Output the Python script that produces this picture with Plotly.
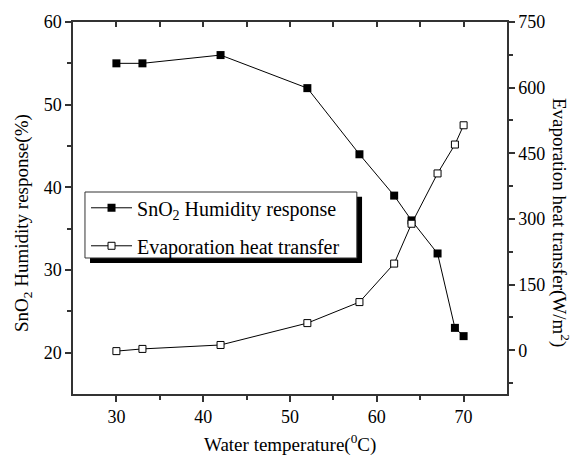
import plotly.graph_objects as go

temps = [30, 33, 42, 52, 58, 62, 64, 67, 69, 70]
humidity = [55, 55, 56, 52, 44, 39, 36, 32, 23, 22]
heat = [-2, 3, 12, 62, 110, 198, 289, 404, 470, 514]

x_ticks = [30, 40, 50, 60, 70]
y1_ticks = [20, 30, 40, 50, 60]
y2_ticks = [0, 150, 300, 450, 600, 750]

FONT = "Liberation Serif, Times New Roman, serif"

fig = go.Figure()
fig.add_trace(go.Scatter(
    x=temps, y=humidity, mode="lines+markers",
    name="SnO<sub>2</sub> Humidity response", legendgroup="a",
    line=dict(color="black", width=1),
    marker=dict(symbol="square", size=8, color="black"),
))
fig.add_trace(go.Scatter(
    x=temps, y=heat, mode="lines+markers", yaxis="y2",
    name="Evaporation heat transfer", legendgroup="b",
    line=dict(color="black", width=1),
    marker=dict(symbol="square", size=7, color="white", line=dict(color="black", width=1)),
))

axis_common = dict(
    showline=True, linecolor="#333", linewidth=1.5, mirror=False,
    ticks="outside", ticklen=6, tickwidth=1.5, tickcolor="#333",
    showgrid=False, zeroline=False,
    tickfont=dict(family=FONT, size=18, color="black"),
)

fig.update_layout(
    width=576, height=457,
    margin=dict(l=73, r=69, t=22, b=63),
    paper_bgcolor="white", plot_bgcolor="white",
    font=dict(family=FONT, color="black"),
    xaxis=dict(range=[25, 75], tickvals=x_ticks, **axis_common,
               minor=dict(tickvals=[35, 45, 55, 65], ticks="outside", ticklen=4, tickcolor="#333", tickwidth=1.5)),
    xaxis2=dict(range=[25, 75], overlaying="x", side="top", showline=True, linecolor="#333", linewidth=1.5,
                ticks="inside", ticklen=5, tickwidth=1.5, tickcolor="#333",
                tickvals=[30, 35, 40, 45, 50, 55, 60, 65, 70], showticklabels=False, showgrid=False, zeroline=False),
    yaxis=dict(range=[15, 60], tickvals=y1_ticks, **axis_common,
               minor=dict(tickvals=[25, 35, 45, 55], ticks="outside", ticklen=4, tickcolor="#333", tickwidth=1.5)),
    yaxis2=dict(range=[-100, 750], tickvals=y2_ticks, overlaying="y", side="right", **axis_common,
                minor=dict(tickvals=[-75, 75, 225, 375, 525, 675], ticks="outside", ticklen=4, tickcolor="#333", tickwidth=1.5)),
    legend=dict(x=0.03, y=0.553, xanchor="left", yanchor="top",
                bgcolor="rgba(0,0,0,0)", borderwidth=0,
                font=dict(family=FONT, size=20, color="black"),
                itemwidth=41, tracegroupgap=9),
    showlegend=True,
)
fig.add_trace(go.Scatter(x=[None], y=[None], xaxis="x2", showlegend=False))

# legend box with shadow
fig.add_shape(type="rect", xref="paper", yref="paper", x0=0.0392, x1=0.666, y0=0.352, y1=0.53,
              fillcolor="black", line=dict(width=0), layer="above")
fig.add_shape(type="rect", xref="paper", yref="paper", x0=0.0276, x1=0.654, y0=0.3656, y1=0.543,
              fillcolor="white", line=dict(color="#333", width=1), layer="above")

fig.add_annotation(text="SnO<sub>2</sub> Humidity response(%)", xref="paper", yref="paper",
                   x=-0.115, y=0.46, xanchor="center", yanchor="middle", textangle=-90, showarrow=False,
                   font=dict(family=FONT, size=19, color="black"))
fig.add_annotation(text="Evaporation heat transfer(W/m<sup>2</sup>)", xref="paper", yref="paper",
                   x=1.122, y=0.46, xanchor="center", yanchor="middle", textangle=90, showarrow=False,
                   font=dict(family=FONT, size=19, color="black"))
fig.add_annotation(text="Water temperature(<sup>0</sup>C)", xref="paper", yref="paper",
                   x=0.5, y=-0.132, xanchor="center", yanchor="middle", showarrow=False,
                   font=dict(family=FONT, size=19, color="black"))

fig.write_html("out.html", config={"displayModeBar": False},
               post_script="document.body.style.margin='0';document.body.style.overflow='hidden';")
